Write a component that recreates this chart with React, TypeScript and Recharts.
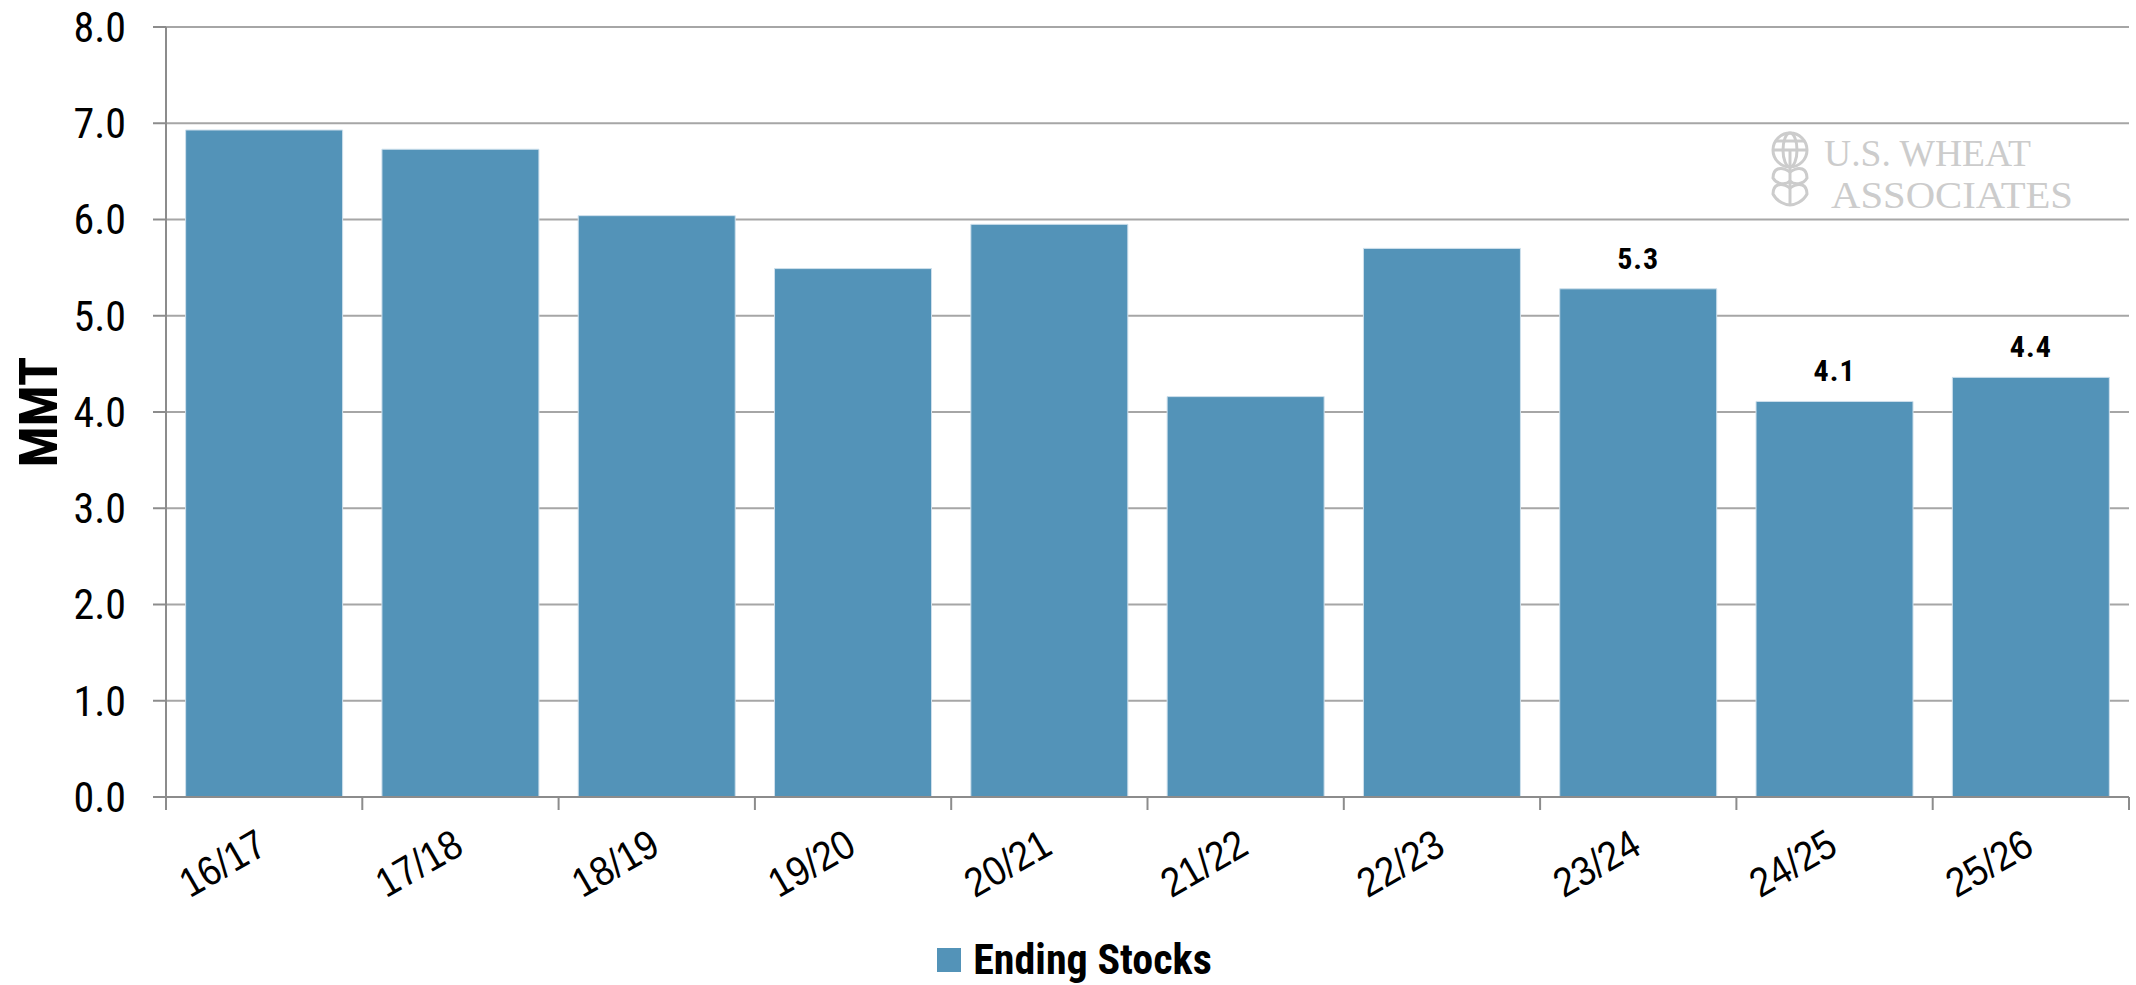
import * as React from 'react';
import { BarChart, Bar, XAxis, YAxis, CartesianGrid, Legend, LabelList } from 'recharts';

const seasons = ['16/17', '17/18', '18/19', '19/20', '20/21', '21/22', '22/23', '23/24', '24/25', '25/26'];
const endingStocks = [6.93, 6.73, 6.04, 5.49, 5.95, 4.16, 5.70, 5.28, 4.11, 4.36];
const barLabels = ['', '', '', '', '', '', '', '5.3', '4.1', '4.4'];
const yTicks = [0, 1, 2, 3, 4, 5, 6, 7, 8];

const data = seasons.map((season, i) => ({
    season,
    stocks: endingStocks[i],
    label: barLabels[i],
}));

const NARROW = "'Liberation Sans Narrow', 'Arial Narrow', 'Roboto Condensed', 'DejaVu Sans Condensed', sans-serif";
const SANS = "'Liberation Sans', Arial, sans-serif";
const SERIF = "'Liberation Serif', 'Times New Roman', serif";
const BAR_COLOR = '#5393b8';
const AXIS_COLOR = '#8c8c8c';
const GRID_COLOR = '#a6a6a6';
const TICK_SIZE = 13;
const X_TICK_MARGIN = 30;

// category labels, plus tick marks on the band boundaries
const XTick = (props: any) => {
    const { x, y, payload, index, visibleTicksCount } = props;
    const half = payload.offset || 0;
    const axisY = y - TICK_SIZE - X_TICK_MARGIN;
    const last = index === visibleTicksCount - 1;
    const tx = x - 2;
    return (
        <g>
            <line x1={x - half} x2={x - half} y1={axisY} y2={axisY + TICK_SIZE} stroke={AXIS_COLOR} strokeWidth={2}/>
            {last && <line x1={x + half} x2={x + half} y1={axisY} y2={axisY + TICK_SIZE} stroke={AXIS_COLOR} strokeWidth={2}/>}
            <text
                x={tx}
                y={y}
                dy="0.35em"
                textAnchor="end"
                transform={`rotate(-30, ${tx}, ${y})`}
                fontFamily={SANS}
                fontSize={41}
                textLength={92}
                lengthAdjust="spacingAndGlyphs"
                fill="#000"
            >
                {payload.value}
            </text>
        </g>
    );
};

const ValueLabel = (props: any) => {
    const { x, y, width, value } = props;
    if (!value) return null;
    return (
        <text x={x + width / 2} y={y - 20} textAnchor="middle" fontFamily={NARROW} fontWeight="bold" fontSize={30} letterSpacing={1} fill="#000">
            {value}
        </text>
    );
};

const LegendContent = () => (
    <div style={{ height: 68, boxSizing: 'border-box', paddingTop: 18, paddingLeft: 20, display: 'flex', justifyContent: 'center', alignItems: 'center' }}>
        <span style={{ width: 24, height: 24, background: BAR_COLOR, display: 'inline-block', marginRight: 12 }}/>
        <span style={{ fontFamily: NARROW, fontWeight: 'bold', fontSize: 42, lineHeight: '50px', color: '#000' }}>Ending Stocks</span>
    </div>
);

const Logo = () => (
    <svg width={2136} height={985} style={{ position: 'absolute', left: 0, top: 0, pointerEvents: 'none' }}>
        <g stroke="#cccccc" strokeWidth={3} fill="none">
            <circle cx={1790} cy={150} r={17}/>
            <ellipse cx={1790} cy={150} rx={7} ry={17}/>
            <line x1={1773} x2={1807} y1={150} y2={150}/>
            <line x1={1776} x2={1804} y1={141} y2={141}/>
            <line x1={1790} x2={1790} y1={150} y2={205}/>
            <path d="M1790 172 C1780 165 1773 169 1773 178 C1777 185 1786 185 1790 181"/>
            <path d="M1790 172 C1800 165 1807 169 1807 178 C1803 185 1794 185 1790 181"/>
            <path d="M1790 188 C1780 181 1773 185 1773 194 C1777 202 1786 205 1790 205"/>
            <path d="M1790 188 C1800 181 1807 185 1807 194 C1803 202 1794 205 1790 205"/>
        </g>
        <text x={1824} y={166} fontFamily={SERIF} fontSize={38} fill="#cccccc" textLength={207} lengthAdjust="spacingAndGlyphs">U.S. WHEAT</text>
        <text x={1831} y={208} fontFamily={SERIF} fontSize={38} fill="#cccccc" textLength={242} lengthAdjust="spacingAndGlyphs">ASSOCIATES</text>
    </svg>
);

export default function App() {
    return (
        <div style={{ position: 'absolute', left: 0, top: 0, width: 2136, height: 985, background: '#fff' }}>
            <BarChart
                width={2136}
                height={985}
                data={data}
                margin={{ top: 27, right: 7, left: 0, bottom: 0 }}
                barCategoryGap="10%"
            >
                <CartesianGrid vertical={false} stroke={GRID_COLOR} strokeWidth={2}/>
                <XAxis
                    dataKey="season"
                    height={120}
                    interval={0}
                    tickLine={false}
                    tickSize={TICK_SIZE}
                    tickMargin={X_TICK_MARGIN}
                    axisLine={{ stroke: AXIS_COLOR, strokeWidth: 2 }}
                    tick={<XTick/>}
                />
                <YAxis
                    width={166}
                    domain={[0, 8]}
                    ticks={yTicks}
                    interval={0}
                    tickFormatter={(v: number) => v.toFixed(1)}
                    tickSize={TICK_SIZE}
                    tickMargin={27}
                    axisLine={{ stroke: AXIS_COLOR, strokeWidth: 2 }}
                    tickLine={{ stroke: AXIS_COLOR, strokeWidth: 2 }}
                    tick={{ fontFamily: NARROW, fontSize: 42, fill: '#000' }}
                    label={({ viewBox }: any) => {
                        const cx = viewBox.x + 38;
                        const cy = viewBox.y + viewBox.height / 2;
                        return (
                            <text x={cx} y={cy} transform={`rotate(-90, ${cx}, ${cy})`} textAnchor="middle" dominantBaseline="central" fontFamily={NARROW} fontWeight="bold" fontSize={54} fill="#000">
                                MMT
                            </text>
                        );
                    }}
                />
                <Legend verticalAlign="bottom" content={<LegendContent/>}/>
                <Bar dataKey="stocks" name="Ending Stocks" fill={BAR_COLOR} stroke="#cfe0ec" strokeWidth={1} isAnimationActive={false}>
                    <LabelList dataKey="label" content={<ValueLabel/>}/>
                </Bar>
            </BarChart>
            <Logo/>
        </div>
    );
}
